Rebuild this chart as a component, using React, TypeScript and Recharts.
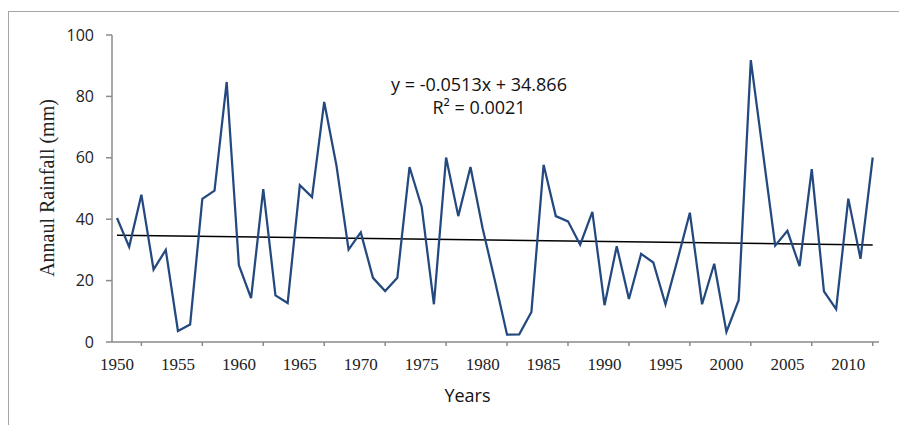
import { LineChart, Line, XAxis, YAxis, ReferenceLine } from 'recharts';

const years = [
  1950, 1951, 1952, 1953, 1954, 1955, 1956, 1957, 1958, 1959,
  1960, 1961, 1962, 1963, 1964, 1965, 1966, 1967, 1968, 1969,
  1970, 1971, 1972, 1973, 1974, 1975, 1976, 1977, 1978, 1979,
  1980, 1981, 1982, 1983, 1984, 1985, 1986, 1987, 1988, 1989,
  1990, 1991, 1992, 1993, 1994, 1995, 1996, 1997, 1998, 1999,
  2000, 2001, 2002, 2003, 2004, 2005, 2006, 2007, 2008, 2009,
  2010, 2011, 2012,
];

const rainfall = [
  40.4, 31.0, 48.0, 23.6, 30.0, 3.6, 5.7, 46.6, 49.3, 84.7,
  25.0, 14.3, 49.8, 15.2, 12.7, 51.1, 47.2, 78.2, 57.6, 30.1,
  35.7, 20.9, 16.6, 20.9, 57.0, 44.0, 12.3, 60.1, 41.0, 57.0,
  37.0, 20.0, 2.4, 2.5, 9.8, 57.7, 41.0, 39.3, 31.7, 42.4,
  12.0, 31.2, 14.0, 28.7, 25.9, 12.3, 27.0, 42.1, 12.3, 25.5,
  3.3, 13.6, 91.8, 61.6, 31.4, 36.2, 24.7, 56.3, 16.5, 10.7,
  46.7, 27.1, 60.1,
];

// linear trend end points (y = -0.0513x + 34.866 at x = 1 and x = 63)
const trendEnds = [
  { year: 1950, value: 34.81 },
  { year: 2012, value: 31.63 },
];

const xLabelYears = [1950, 1955, 1960, 1965, 1970, 1975, 1980, 1985, 1990, 1995, 2000, 2005, 2010];
const xMarkYears = [1952, 1957, 1962, 1967, 1972, 1977, 1982, 1987, 1992, 1997, 2002, 2007, 2012];
const yTicks = [0, 20, 40, 60, 80, 100];

const data = years.map((year, i) => ({ year, rain: rainfall[i] }));

const AXIS_COLOR = '#8A8A8A';
const SANS = '"Open Sans", sans-serif';
const SERIF = '"Liberation Serif", "Times New Roman", serif';

function XTick({ x, y, payload }: { x?: number; y?: number; payload?: { value: number } }) {
  const v = payload?.value ?? 0;
  if (xMarkYears.includes(v)) {
    return <line x1={x} x2={x} y1={y} y2={(y ?? 0) + 4} stroke={AXIS_COLOR} strokeWidth={1.5} />;
  }
  return (
    <text x={x} y={(y ?? 0) + 27.5} textAnchor="middle" fontFamily={SERIF} fontSize={17} fill="#222">
      {v}
    </text>
  );
}

export default function App() {
  return (
    <div style={{ position: 'absolute', left: 0, top: 0, width: 899, height: 425, background: '#fff' }}>
      <div
        style={{
          position: 'absolute',
          left: 8,
          top: 11,
          width: 891,
          height: 414,
          borderLeft: '1.5px solid #A6A6A6',
          borderTop: '1.5px solid #A6A6A6',
        }}
      />
      <LineChart
        width={899}
        height={425}
        data={data}
        margin={{ top: 35, right: 20, bottom: 53, left: 12 }}
        style={{ position: 'absolute', left: 0, top: 0 }}
      >
        <XAxis
          dataKey="year"
          type="number"
          domain={[1950, 2012]}
          ticks={[...xLabelYears, ...xMarkYears]}
          interval={0}
          padding={{ left: 5, right: 6.3 }}
          height={30}
          tickSize={0}
          tickMargin={0}
          tickLine={false}
          axisLine={{ stroke: AXIS_COLOR, strokeWidth: 1.5 }}
          tick={<XTick />}
        />
        <YAxis
          type="number"
          domain={[0, 100]}
          ticks={yTicks}
          interval={0}
          width={100}
          tickSize={6}
          tickMargin={12}
          axisLine={{ stroke: AXIS_COLOR, strokeWidth: 1.5 }}
          tickLine={{ stroke: AXIS_COLOR, strokeWidth: 1.5 }}
          tick={{ fontFamily: SANS, fontSize: 16, fill: '#222' }}
        />
        <ReferenceLine
          segment={[
            { x: trendEnds[0].year, y: trendEnds[0].value },
            { x: trendEnds[1].year, y: trendEnds[1].value },
          ]}
          stroke="#000"
          strokeWidth={1.5}
          ifOverflow="visible"
        />
        <Line
          type="linear"
          dataKey="rain"
          stroke="#24497F"
          strokeWidth={2.25}
          dot={false}
          activeDot={false}
          isAnimationActive={false}
        />
      </LineChart>
      <svg width={899} height={425} style={{ position: 'absolute', left: 0, top: 0, pointerEvents: 'none' }}>
        <text x={479} y={90.7} textAnchor="middle" fontFamily={SANS} fontSize={18} fill="#111">
          y = -0.0513x + 34.866
        </text>
        <text x={479} y={114} textAnchor="middle" fontFamily={SANS} fontSize={18} fill="#111">
          R² = 0.0021
        </text>
        <text x={467.5} y={401.7} textAnchor="middle" fontFamily={SANS} fontSize={18} fill="#111">
          Years
        </text>
        <text
          transform="translate(54,188) rotate(-90)"
          textAnchor="middle"
          fontFamily={SERIF}
          fontSize={20}
          fill="#222"
        >
          Annaul Rainfall (mm)
        </text>
      </svg>
    </div>
  );
}
